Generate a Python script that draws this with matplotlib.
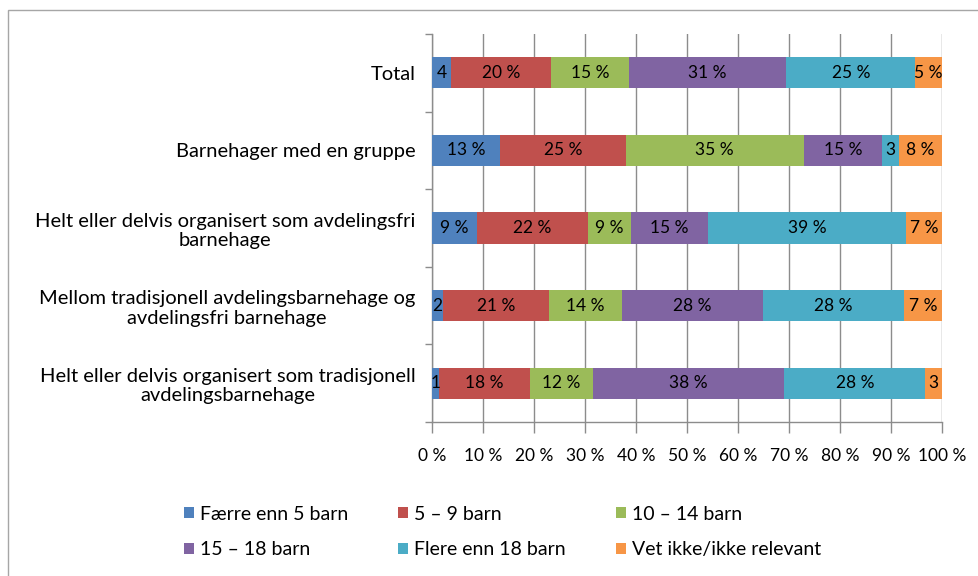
import numpy as np
import matplotlib.pyplot as plt
from matplotlib.patches import Rectangle

plt.rcParams['font.family'] = ['Lato', 'DejaVu Sans']

categories = [
    "Total",
    "Barnehager med en gruppe",
    "Helt eller delvis organisert som avdelingsfri\nbarnehage",
    "Mellom tradisjonell avdelingsbarnehage og\navdelingsfri barnehage",
    "Helt eller delvis organisert som tradisjonell\navdelingsbarnehage",
]
series_names = ["Færre enn 5 barn", "5 – 9 barn", "10 – 14 barn",
                "15 – 18 barn", "Flere enn 18 barn", "Vet ikke/ikke relevant"]

faerre_enn_5 = [3.7, 13.3, 8.8, 2.2, 1.4]
barn_5_9 = [19.6, 24.7, 21.7, 20.8, 17.8]
barn_10_14 = [15.3, 34.9, 8.6, 14.2, 12.3]
barn_15_18 = [30.9, 15.4, 15.0, 27.7, 37.6]
flere_enn_18 = [25.3, 3.3, 38.8, 27.7, 27.6]
vet_ikke = [5.2, 8.4, 7.1, 7.4, 3.3]

tick_labels = ["0 %", "10 %", "20 %", "30 %", "40 %", "50 %",
               "60 %", "70 %", "80 %", "90 %", "100 %"]

series = [faerre_enn_5, barn_5_9, barn_10_14, barn_15_18, flere_enn_18, vet_ikke]
colors = ["#4F81BD", "#C0504D", "#9BBB59", "#8064A2", "#4BACC6", "#F79646"]

fig = plt.figure(figsize=(9.79, 5.76), dpi=100)

# chart border
fig.patches.append(Rectangle((8 / 979, -0.1), 1.0, 1 - 10 / 576 + 0.1,
                             transform=fig.transFigure, fill=False,
                             edgecolor="#A6A6A6", linewidth=1.0))

ax = fig.add_axes([432 / 979, 1 - 422 / 576, 510 / 979, 388 / 576])

y = np.arange(len(categories))
left = np.zeros(len(categories))
handles = []
for name, vals, col in zip(series_names, series, colors):
    vals = np.array(vals)
    bars = ax.barh(y, vals, left=left, height=0.4, color=col, label=name, zorder=3)
    handles.append(bars)
    for yi, l, v in zip(y, left, vals):
        txt = f"{v:.0f} %" if v >= 4.5 else f"{v:.0f}"
        ax.text(l + v / 2, yi, txt, ha="center", va="center",
                fontsize=12.5, color="#000000", zorder=4)
    left += vals

ax.set_xlim(0, 100)
ax.set_ylim(len(categories) - 0.5, -0.5)

ax.set_xticks(np.arange(0, 101, 10))
ax.set_xticklabels(tick_labels, fontsize=12.5)
ax.xaxis.grid(True, color="#8C8C8C", linewidth=1.0, zorder=0)

# category labels at centres, tick marks at boundaries
ax.set_yticks(y)
ax.set_yticklabels(categories, fontsize=14.5, multialignment="center",
                   linespacing=1.2)
ax.set_yticks(np.arange(-0.5, len(categories), 1), minor=True)
ax.tick_params(axis="y", which="major", length=0, pad=12)
ax.tick_params(axis="y", which="minor", length=5, color="#8C8C8C", width=1.0)
ax.tick_params(axis="x", length=8, color="#8C8C8C", width=1.0, pad=11)

for side in ["top", "right"]:
    ax.spines[side].set_visible(False)
for side in ["left", "bottom"]:
    ax.spines[side].set_color("#8C8C8C")
    ax.spines[side].set_linewidth(1.0)

# legend filled row by row
order = [0, 3, 1, 4, 2, 5]
fig.legend([handles[i] for i in order], [series_names[i] for i in order],
           ncol=3, loc="center left", bbox_to_anchor=(184 / 979, 1 - 532 / 576),
           frameon=False, fontsize=14, handlelength=0.5, handleheight=0.5,
           handletextpad=0.3, columnspacing=2.6, labelspacing=0.95,
           borderpad=0, borderaxespad=0)

fig.savefig("out.png", dpi=100, facecolor="white")
